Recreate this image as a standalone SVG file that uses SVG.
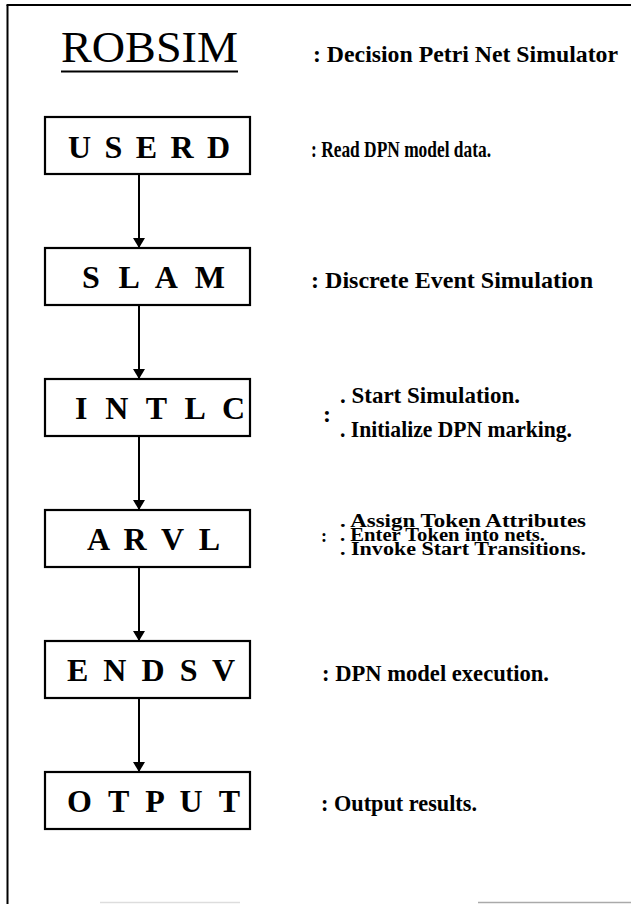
<svg xmlns="http://www.w3.org/2000/svg" width="631" height="904" viewBox="0 0 631 904">
  <defs>
    <marker id="arrow" viewBox="0 0 10 12" refX="10" refY="6" markerWidth="10" markerHeight="12" markerUnits="userSpaceOnUse" orient="auto">
      <path d="M0,0 L10,6 L0,12 Z" fill="#000"/>
    </marker>
    <style>
      .frame { stroke: #000; stroke-width: 2; fill: none; }
      .box { fill: #fff; stroke: #000; stroke-width: 2.2; }
      .boxlabel { font-family: "Liberation Serif", "Times New Roman", serif; font-weight: bold; font-size: 32px; fill: #000; }
      .desc { font-family: "Liberation Serif", "Times New Roman", serif; font-weight: bold; font-size: 24px; fill: #000; }
      .small { font-size: 18px; }
      .title { font-family: "Liberation Serif", "Times New Roman", serif; font-size: 45px; fill: #000; }
      .conn { stroke: #000; stroke-width: 2; fill: none; marker-end: url(#arrow); }
    </style>
  </defs>

  <rect x="0" y="0" width="631" height="904" fill="#fff"/>

  <!-- page frame -->
  <g id="frame">
    <line class="frame" x1="7.5" y1="5" x2="7.5" y2="904"/>
    <line class="frame" x1="6.5" y1="5" x2="631" y2="5"/>
    <line x1="478" y1="902.5" x2="631" y2="902.5" stroke="#aaa" stroke-width="1.5"/>
    <line x1="100" y1="902.5" x2="240" y2="902.5" stroke="#ddd" stroke-width="1.5"/>
  </g>

  <!-- heading -->
  <g id="title">
    <text class="title" x="61" y="62" textLength="177" lengthAdjust="spacingAndGlyphs">ROBSIM</text>
    <line x1="61" y1="71.5" x2="238" y2="71.5" stroke="#000" stroke-width="2.2"/>
    <text class="desc" x="313" y="62" textLength="305" lengthAdjust="spacingAndGlyphs">:  Decision  Petri  Net  Simulator</text>
  </g>

  <!-- connectors -->
  <g id="connectors">
    <line class="conn" x1="139" y1="174" x2="139" y2="248"/>
    <line class="conn" x1="139" y1="305" x2="139" y2="379"/>
    <line class="conn" x1="139" y1="436" x2="139" y2="510"/>
    <line class="conn" x1="139" y1="567" x2="139" y2="641"/>
    <line class="conn" x1="139" y1="698" x2="139" y2="772"/>
  </g>

  <g id="userd">
    <rect class="box" x="45" y="117" width="205" height="57"/>
    <text class="boxlabel" x="68" y="158" textLength="162" lengthAdjust="spacing">U S E R D</text>
    <text class="desc" x="311" y="157" textLength="180" lengthAdjust="spacingAndGlyphs">:  Read  DPN model data.</text>
  </g>

  <g id="slam">
    <rect class="box" x="45" y="248" width="205" height="57"/>
    <text class="boxlabel" x="82" y="288" textLength="143" lengthAdjust="spacing">S L A M</text>
    <text class="desc" x="311" y="288" textLength="282" lengthAdjust="spacingAndGlyphs">:  Discrete  Event  Simulation</text>
  </g>

  <g id="intlc">
    <rect class="box" x="45" y="379" width="205" height="57"/>
    <text class="boxlabel" x="75" y="419" textLength="170" lengthAdjust="spacing">I N T L C</text>
    <text class="desc" x="323" y="422">:</text>
    <text class="desc" x="340" y="403" textLength="180" lengthAdjust="spacingAndGlyphs">.  Start  Simulation.</text>
    <text class="desc" x="340" y="437" textLength="232" lengthAdjust="spacingAndGlyphs">.  Initialize DPN marking.</text>
  </g>

  <g id="arvl">
    <rect class="box" x="45" y="510" width="205" height="57"/>
    <text class="boxlabel" x="87" y="550" textLength="133" lengthAdjust="spacing">A R V L</text>
    <text class="desc small" x="321" y="542">:</text>
    <text class="desc small" x="340" y="526.5" textLength="246" lengthAdjust="spacingAndGlyphs">.  Assign Token Attributes</text>
    <text class="desc small" x="340" y="540.5" textLength="205" lengthAdjust="spacingAndGlyphs">.  Enter Token into nets.</text>
    <text class="desc small" x="340" y="554.5" textLength="246" lengthAdjust="spacingAndGlyphs">.  Invoke  Start  Transitions.</text>
  </g>

  <g id="endsv">
    <rect class="box" x="45" y="641" width="205" height="57"/>
    <text class="boxlabel" x="67" y="681" textLength="168" lengthAdjust="spacing">E N D S V</text>
    <text class="desc" x="322" y="681" textLength="227" lengthAdjust="spacingAndGlyphs">:  DPN model execution.</text>
  </g>

  <g id="otput">
    <rect class="box" x="45" y="772" width="205" height="57"/>
    <text class="boxlabel" x="67" y="812" textLength="173" lengthAdjust="spacing">O T P U T</text>
    <text class="desc" x="321" y="811" textLength="156" lengthAdjust="spacingAndGlyphs">:  Output  results.</text>
  </g>
</svg>
